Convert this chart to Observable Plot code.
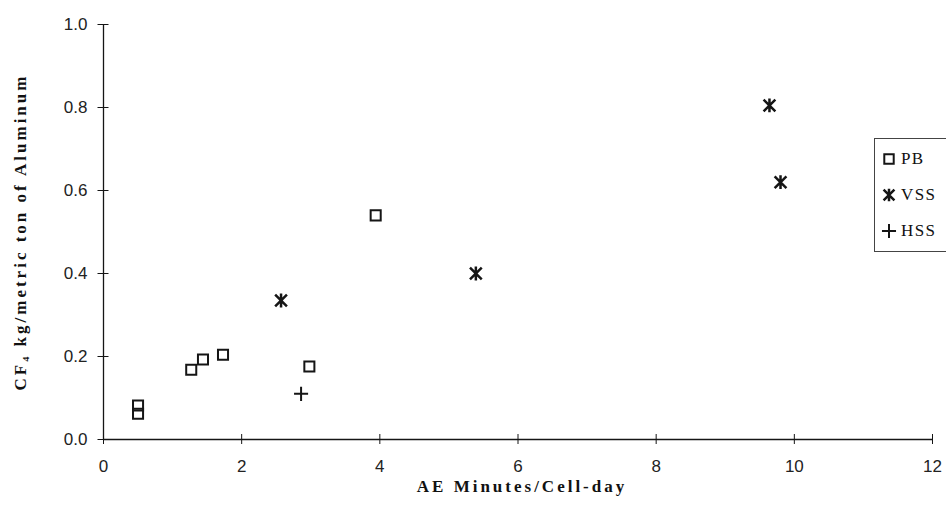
<!DOCTYPE html>
<html>
<head>
<meta charset="utf-8">
<script src="https://cdn.jsdelivr.net/npm/d3@7"></script>
<script src="https://cdn.jsdelivr.net/npm/@observablehq/plot@0.6"></script>
<style>
  html, body { margin: 0; padding: 0; background: #fff; overflow: hidden; }
  #wrap { position: relative; width: 946px; height: 508px; overflow: hidden; }
  #legend { position: absolute; left: 874px; top: 138px; width: 90px; height: 112px;
            border: 1px solid #444; background: #fff; font-family: "Liberation Serif", "Times New Roman", serif;
            font-size: 17px; color: #111; }
  .item { position: absolute; left: 6px; height: 20px; display: flex; align-items: center; }
  .item span { margin-left: 4px; letter-spacing: 1.4px; }
</style>
</head>
<body>
<div id="wrap"></div>
<script>
// Data
const pbX = [0.5, 0.5, 1.27, 1.44, 1.73, 2.98, 3.94];
const pbY = [0.062, 0.082, 0.168, 0.193, 0.204, 0.176, 0.54];
const vssX = [2.57, 5.39, 9.64, 9.80];
const vssY = [0.335, 0.40, 0.805, 0.62];
const hssX = [2.86];
const hssY = [0.11];
const seriesNames = ["PB", "VSS", "HSS"];
const xTicks = [0, 2, 4, 6, 8, 10, 12];
const yTicks = [0, 0.2, 0.4, 0.6, 0.8, 1.0];
const xTitle = "AE Minutes/Cell-day";
const yTitle = "CF\u2084 kg/metric ton of Aluminum";

const toRows = (xs, ys) => xs.map((x, i) => ({x, y: ys[i]}));
const pb = toRows(pbX, pbY), vss = toRows(vssX, vssY), hss = toRows(hssX, hssY);

// star symbol: vertical bar plus an X (like the reference's VSS marker)
const starSymbol = {
  draw(context, size) {
    const r = Math.sqrt(size) * 0.62;
    const u = r * 0.85;
    context.moveTo(0, -r); context.lineTo(0, r);
    context.moveTo(-u, -u); context.lineTo(u, u);
    context.moveTo(-u, u); context.lineTo(u, -u);
  }
};

const ink = "#151515";
const chart = Plot.plot({
  width: 946,
  height: 508,
  marginLeft: 103,
  marginRight: 14,
  marginTop: 24,
  marginBottom: 69,
  style: {fontFamily: "'Liberation Sans', Arial, sans-serif", fontSize: "17px", color: "#222", background: "#fff"},
  x: {domain: [0, 12]},
  y: {domain: [0, 1]},
  marks: [
    Plot.ruleY([0], {stroke: ink, strokeWidth: 1.3}),
    Plot.ruleX([0], {stroke: ink, strokeWidth: 1.3}),
    // cross tick marks
    Plot.axisX({ticks: xTicks, tickSize: 10, dy: -5, tickFormat: () => "", label: null, stroke: ink}),
    Plot.axisY({ticks: yTicks, tickSize: 11, dx: 5.5, tickFormat: () => "", label: null, stroke: ink}),
    // tick labels
    Plot.axisX({ticks: xTicks, tickSize: 0, tickPadding: 20, tickFormat: d3.format("d"), label: null, fill: "#222"}),
    Plot.axisY({ticks: yTicks, tickSize: 0, tickPadding: 16, tickFormat: d3.format(".1f"), label: null, fill: "#222"}),
    // data
    Plot.dot(pb, {x: "x", y: "y", symbol: "square2", r: 6.4, fill: "none", stroke: ink, strokeWidth: 2}),
    Plot.dot(vss, {x: "x", y: "y", symbol: starSymbol, r: 6.3, fill: "none", stroke: ink, strokeWidth: 2.5}),
    Plot.dot(hss, {x: "x", y: "y", symbol: "plus", r: 4.6, fill: "none", stroke: ink, strokeWidth: 2}),
    // titles
    Plot.text([yTitle], {frameAnchor: "left", textAnchor: "middle", rotate: -90, dx: -83, text: d => d,
      fontFamily: "'Liberation Serif', 'Times New Roman', serif", fontWeight: "bold", fontSize: 17, fill: "#111"}),
    Plot.text([xTitle], {frameAnchor: "bottom", textAnchor: "middle", dy: 52, dx: 4, text: d => d,
      fontFamily: "'Liberation Serif', 'Times New Roman', serif", fontWeight: "bold", fontSize: 17, fill: "#111"})
  ]
});
// widen letter spacing of the axis titles, as in the reference
d3.select(chart).selectAll("text").each(function () {
  if (this.textContent === yTitle) this.setAttribute("letter-spacing", "3");
  if (this.textContent === xTitle) this.setAttribute("letter-spacing", "3");
});
const wrap = document.getElementById("wrap");
wrap.appendChild(chart);

// Legend (HTML overlay inside the plot area)
const legend = document.createElement("div");
legend.id = "legend";
const symbols = [d3.symbolSquare2, starSymbol, d3.symbolPlus];
const sizes = [Math.PI * 6 * 6, Math.PI * 5.8 * 5.8, Math.PI * 4.6 * 4.6];
const widths = [2, 2.5, 2];
const tops = [10, 46, 82];
seriesNames.forEach((name, i) => {
  const item = document.createElement("div");
  item.className = "item";
  item.style.top = tops[i] + "px";
  const svgNS = "http://www.w3.org/2000/svg";
  const s = document.createElementNS(svgNS, "svg");
  s.setAttribute("width", 16); s.setAttribute("height", 16);
  const p = document.createElementNS(svgNS, "path");
  p.setAttribute("d", d3.symbol(symbols[i], sizes[i])());
  p.setAttribute("transform", "translate(8,8)");
  p.setAttribute("fill", "none"); p.setAttribute("stroke", ink); p.setAttribute("stroke-width", widths[i]);
  s.appendChild(p);
  item.appendChild(s);
  const t = document.createElement("span");
  t.textContent = name;
  item.appendChild(t);
  legend.appendChild(item);
});
wrap.appendChild(legend);
</script>
</body>
</html>
